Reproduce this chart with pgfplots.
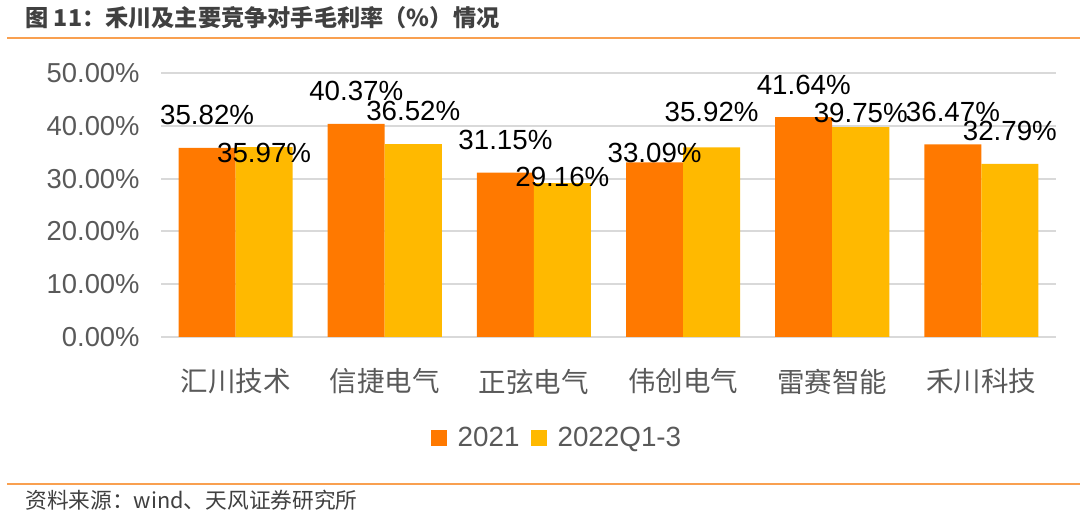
\documentclass[border=0pt]{standalone}
\usepackage{pgfplots}
\pgfplotsset{compat=1.18}
\usepackage{fontspec}
\setmainfont{Liberation Sans}
\newfontfamily\cjk{Noto Sans CJK SC}
\definecolor{orA}{HTML}{FF7900}
\definecolor{yeB}{HTML}{FFB900}
\definecolor{lineO}{HTML}{F9A050}
\definecolor{txt}{HTML}{404040}
\definecolor{tickc}{HTML}{595959}
\definecolor{gridc}{HTML}{D9D9D9}
\pgfplotsset{sqlegend/.style={legend image code/.code={\fill[##1,draw=none] (0pt,-4pt) rectangle (8pt,4pt);}}}
\begin{document}
\begin{tikzpicture}
\path[use as bounding box] (0,0) rectangle (540pt,259pt);
\node[anchor=west, inner sep=0pt, font=\cjk\bfseries\fontsize{11.6pt}{13pt}\selectfont, text=txt] at (12.5pt,250pt) {图 11：禾川及主要竞争对手毛利率（\%）情况};
\draw[lineO, line width=1pt] (3.5pt,240pt) -- (540pt,240pt);
\draw[lineO, line width=1pt] (3.5pt,17pt) -- (540pt,17pt);
\node[anchor=west, inner sep=0pt, font=\cjk\fontsize{10.85pt}{12pt}\selectfont, text=txt] at (12.5pt,9pt) {资料来源：wind、天风证券研究所};
\begin{axis}[
  at={(80.5pt,90.5pt)}, anchor=south west,
  scale only axis, width=447.5pt, height=132pt,
  xmin=-0.5, xmax=5.5, ymin=0, ymax=50,
  ybar=0pt, bar width=28.5pt,
  axis line style={draw=none}, tick style={draw=none},
  ymajorgrids, grid style={gridc, line width=1pt},
  ytick={0,10,20,30,40,50},
  yticklabel={\pgfmathprintnumber[fixed,fixed zerofill,precision=2]{\tick}\%},
  /pgf/number format/assume math mode=true,
  yticklabel style={font=\fontsize{13.7pt}{15pt}\selectfont, text=tickc, inner xsep=0pt, xshift=-10.5pt},
  xtick={0,1,2,3,4,5},
  xticklabels={汇川技术,信捷电气,正弦电气,伟创电气,雷赛智能,禾川科技},
  xticklabel style={font=\cjk\fontsize{13.75pt}{15pt}\selectfont, text=tickc, anchor=center, yshift=-18pt},
  legend columns=2,
  legend style={at={(0.4413,-0.3826)}, anchor=center, draw=none, fill=none,
    font=\fontsize{13.9pt}{15pt}\selectfont, text=tickc,
    nodes={inner xsep=0pt},
    /tikz/every odd column/.append style={column sep=5.5pt},
    /tikz/every even column/.append style={column sep=5.5pt}},
]
\addplot[fill=orA, draw=none, sqlegend] coordinates {(0,35.82) (1,40.37) (2,31.15) (3,33.09) (4,41.64) (5,36.47)};
\addlegendentry{2021}
\addplot[fill=yeB, draw=none, sqlegend] coordinates {(0,35.97) (1,36.52) (2,29.16) (3,35.92) (4,39.75) (5,32.79)};
\addlegendentry{2022Q1-3}
\tikzset{lab/.style={font=\fontsize{13.85pt}{15pt}\selectfont, text=black, inner sep=0pt}}
\node[lab] at (axis cs:-0.191,42.05) {35.82\%};
\node[lab] at (axis cs:0.191,34.85) {35.97\%};
\node[lab] at (axis cs:0.809,46.59) {40.37\%};
\node[lab] at (axis cs:1.191,42.80) {36.52\%};
\node[lab] at (axis cs:1.809,37.31) {31.15\%};
\node[lab] at (axis cs:2.191,30.30) {29.16\%};
\node[lab] at (axis cs:2.809,34.85) {33.09\%};
\node[lab] at (axis cs:3.191,42.61) {35.92\%};
\node[lab] at (axis cs:3.809,47.73) {41.64\%};
\node[lab] at (axis cs:4.191,42.42) {39.75\%};
\node[lab] at (axis cs:4.809,42.61) {36.47\%};
\node[lab] at (axis cs:5.191,39.02) {32.79\%};
\end{axis}
\end{tikzpicture}
\end{document}
